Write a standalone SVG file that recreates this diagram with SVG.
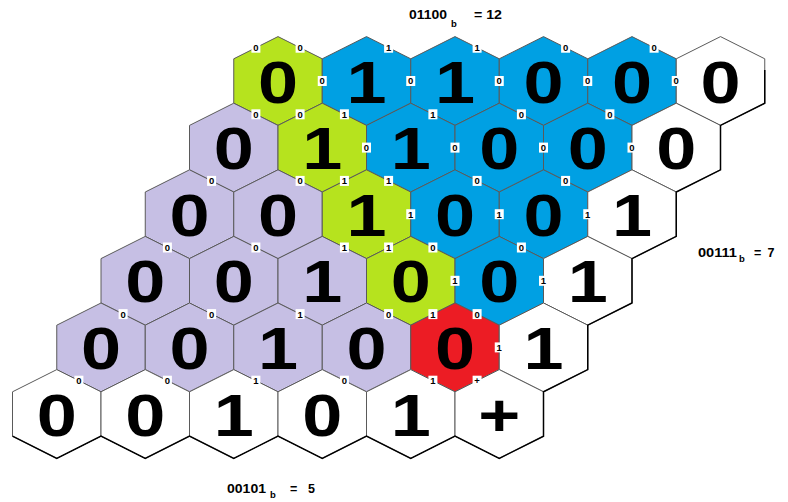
<svg xmlns="http://www.w3.org/2000/svg" xmlns:xlink="http://www.w3.org/1999/xlink" width="788" height="502" viewBox="0 0 788 502">
<style>
.hx{stroke:#5a5a5a;stroke-width:1}
.G{fill:#b6e31e}.B{fill:#00a0e3}.P{fill:#c6bfe4}.R{fill:#ec1c24}.W{fill:#ffffff}
.big{font-family:"Liberation Sans",Arial,sans-serif;font-weight:bold;font-size:60px;fill:#000;text-anchor:middle}
.lb{fill:#fff;stroke:none}
.lt{font-family:"Liberation Sans",Arial,sans-serif;font-weight:bold;font-size:9.5px;fill:#000;text-anchor:middle}
.cap{font-family:"Liberation Sans",Arial,sans-serif;font-weight:bold;font-size:12.5px;fill:#000}
.sub{font-family:"Liberation Sans",Arial,sans-serif;font-weight:bold;font-size:9.5px;fill:#000}
</style>
<defs>
<polygon id="hex" points="0,-44.4 44.25,-22.2 44.25,22.2 0,44.4 -44.25,22.2 -44.25,-22.2"/>
<g id="l0"><rect class="lb" x="-4.5" y="-5" width="9" height="10"/><text class="lt" y="3.4">0</text></g>
<g id="l1"><rect class="lb" x="-4.5" y="-5" width="9" height="10"/><text class="lt" y="3.4">1</text></g>
<g id="lp"><rect class="lb" x="-4.5" y="-5" width="9" height="10"/><text class="lt" y="3.4">+</text></g>
</defs>
<g id="nodes">
<g id="n00" transform="translate(278,81)"><use xlink:href="#hex" class="hx G"/><text class="big" y="21.5" transform="scale(1.2,1)">0</text></g>
<g id="n01" transform="translate(366.5,81)"><use xlink:href="#hex" class="hx B"/><text class="big" y="21.5" transform="scale(1.2,1)">1</text></g>
<g id="n02" transform="translate(455,81)"><use xlink:href="#hex" class="hx B"/><text class="big" y="21.5" transform="scale(1.2,1)">1</text></g>
<g id="n03" transform="translate(543.5,81)"><use xlink:href="#hex" class="hx B"/><text class="big" y="21.5" transform="scale(1.2,1)">0</text></g>
<g id="n04" transform="translate(632,81)"><use xlink:href="#hex" class="hx B"/><text class="big" y="21.5" transform="scale(1.2,1)">0</text></g>
<g id="n05" transform="translate(720.5,81)"><use xlink:href="#hex" class="hx W"/><text class="big" y="21.5" transform="scale(1.2,1)">0</text></g>

<g id="n10" transform="translate(233.75,147.6)"><use xlink:href="#hex" class="hx P"/><text class="big" y="21.5" transform="scale(1.2,1)">0</text></g>
<g id="n11" transform="translate(322.25,147.6)"><use xlink:href="#hex" class="hx G"/><text class="big" y="21.5" transform="scale(1.2,1)">1</text></g>
<g id="n12" transform="translate(410.75,147.6)"><use xlink:href="#hex" class="hx B"/><text class="big" y="21.5" transform="scale(1.2,1)">1</text></g>
<g id="n13" transform="translate(499.25,147.6)"><use xlink:href="#hex" class="hx B"/><text class="big" y="21.5" transform="scale(1.2,1)">0</text></g>
<g id="n14" transform="translate(587.75,147.6)"><use xlink:href="#hex" class="hx B"/><text class="big" y="21.5" transform="scale(1.2,1)">0</text></g>
<g id="n15" transform="translate(676.25,147.6)"><use xlink:href="#hex" class="hx W"/><text class="big" y="21.5" transform="scale(1.2,1)">0</text></g>

<g id="n20" transform="translate(189.5,214.2)"><use xlink:href="#hex" class="hx P"/><text class="big" y="21.5" transform="scale(1.2,1)">0</text></g>
<g id="n21" transform="translate(278,214.2)"><use xlink:href="#hex" class="hx P"/><text class="big" y="21.5" transform="scale(1.2,1)">0</text></g>
<g id="n22" transform="translate(366.5,214.2)"><use xlink:href="#hex" class="hx G"/><text class="big" y="21.5" transform="scale(1.2,1)">1</text></g>
<g id="n23" transform="translate(455,214.2)"><use xlink:href="#hex" class="hx B"/><text class="big" y="21.5" transform="scale(1.2,1)">0</text></g>
<g id="n24" transform="translate(543.5,214.2)"><use xlink:href="#hex" class="hx B"/><text class="big" y="21.5" transform="scale(1.2,1)">0</text></g>
<g id="n25" transform="translate(632,214.2)"><use xlink:href="#hex" class="hx W"/><text class="big" y="21.5" transform="scale(1.2,1)">1</text></g>

<g id="n30" transform="translate(145.25,280.8)"><use xlink:href="#hex" class="hx P"/><text class="big" y="21.5" transform="scale(1.2,1)">0</text></g>
<g id="n31" transform="translate(233.75,280.8)"><use xlink:href="#hex" class="hx P"/><text class="big" y="21.5" transform="scale(1.2,1)">0</text></g>
<g id="n32" transform="translate(322.25,280.8)"><use xlink:href="#hex" class="hx P"/><text class="big" y="21.5" transform="scale(1.2,1)">1</text></g>
<g id="n33" transform="translate(410.75,280.8)"><use xlink:href="#hex" class="hx G"/><text class="big" y="21.5" transform="scale(1.2,1)">0</text></g>
<g id="n34" transform="translate(499.25,280.8)"><use xlink:href="#hex" class="hx B"/><text class="big" y="21.5" transform="scale(1.2,1)">0</text></g>
<g id="n35" transform="translate(587.75,280.8)"><use xlink:href="#hex" class="hx W"/><text class="big" y="21.5" transform="scale(1.2,1)">1</text></g>

<g id="n40" transform="translate(101,347.4)"><use xlink:href="#hex" class="hx P"/><text class="big" y="21.5" transform="scale(1.2,1)">0</text></g>
<g id="n41" transform="translate(189.5,347.4)"><use xlink:href="#hex" class="hx P"/><text class="big" y="21.5" transform="scale(1.2,1)">0</text></g>
<g id="n42" transform="translate(278,347.4)"><use xlink:href="#hex" class="hx P"/><text class="big" y="21.5" transform="scale(1.2,1)">1</text></g>
<g id="n43" transform="translate(366.5,347.4)"><use xlink:href="#hex" class="hx P"/><text class="big" y="21.5" transform="scale(1.2,1)">0</text></g>
<g id="n44" transform="translate(455,347.4)"><use xlink:href="#hex" class="hx R"/><text class="big" y="21.5" transform="scale(1.2,1)">0</text></g>
<g id="n45" transform="translate(543.5,347.4)"><use xlink:href="#hex" class="hx W"/><text class="big" y="21.5" transform="scale(1.2,1)">1</text></g>

<g id="n50" transform="translate(56.75,414)"><use xlink:href="#hex" class="hx W"/><text class="big" y="21.5" transform="scale(1.2,1)">0</text></g>
<g id="n51" transform="translate(145.25,414)"><use xlink:href="#hex" class="hx W"/><text class="big" y="21.5" transform="scale(1.2,1)">0</text></g>
<g id="n52" transform="translate(233.75,414)"><use xlink:href="#hex" class="hx W"/><text class="big" y="21.5" transform="scale(1.2,1)">1</text></g>
<g id="n53" transform="translate(322.25,414)"><use xlink:href="#hex" class="hx W"/><text class="big" y="21.5" transform="scale(1.2,1)">0</text></g>
<g id="n54" transform="translate(410.75,414)"><use xlink:href="#hex" class="hx W"/><text class="big" y="21.5" transform="scale(1.2,1)">1</text></g>
<g id="n55" transform="translate(499.25,414)"><use xlink:href="#hex" class="hx W"/><text class="big" y="21.5" transform="scale(1.2,1)">+</text></g>
</g>
<g id="connectors">
<path d="M764.75,70 L764.75,103.2 L720.5,125.4 L720.5,169.8 L676.25,192 L676.25,236.4 L632,258.6 L632,303 L587.75,325.2 L587.75,369.6 L543.5,391.8 L543.5,436.2 L499.25,458.4 L455,436.2 L410.75,458.4 L366.5,436.2 L322.25,458.4 L278,436.2 L233.75,458.4 L189.5,436.2 L145.25,458.4 L101,436.2 L56.75,458.4 L12.5,436.2" fill="none" stroke="#000" stroke-width="1.5"/>
</g>
<g id="edge-labels">
<use xlink:href="#l0" x="255.9" y="47.7"/>
<use xlink:href="#l0" x="300.1" y="47.7"/>
<use xlink:href="#l1" x="388.6" y="47.7"/>
<use xlink:href="#l1" x="477.1" y="47.7"/>
<use xlink:href="#l0" x="565.6" y="47.7"/>
<use xlink:href="#l0" x="654.1" y="47.7"/>
<use xlink:href="#l0" x="322.25" y="81"/>
<use xlink:href="#l0" x="410.75" y="81"/>
<use xlink:href="#l0" x="499.25" y="81"/>
<use xlink:href="#l0" x="587.75" y="81"/>
<use xlink:href="#l0" x="676.25" y="81"/>
<use xlink:href="#l0" x="255.9" y="114.3"/>
<use xlink:href="#l0" x="300.1" y="114.3"/>
<use xlink:href="#l1" x="344.4" y="114.3"/>
<use xlink:href="#l1" x="432.9" y="114.3"/>
<use xlink:href="#l0" x="521.4" y="114.3"/>
<use xlink:href="#l0" x="609.9" y="114.3"/>
<use xlink:href="#l0" x="366.5" y="147.6"/>
<use xlink:href="#l0" x="455" y="147.6"/>
<use xlink:href="#l0" x="543.5" y="147.6"/>
<use xlink:href="#l0" x="632" y="147.6"/>
<use xlink:href="#l0" x="211.6" y="180.9"/>
<use xlink:href="#l0" x="300.1" y="180.9"/>
<use xlink:href="#l1" x="344.4" y="180.9"/>
<use xlink:href="#l1" x="388.6" y="180.9"/>
<use xlink:href="#l0" x="477.1" y="180.9"/>
<use xlink:href="#l0" x="565.6" y="180.9"/>
<use xlink:href="#l1" x="410.75" y="214.2"/>
<use xlink:href="#l1" x="499.25" y="214.2"/>
<use xlink:href="#l1" x="587.75" y="214.2"/>
<use xlink:href="#l0" x="167.4" y="247.5"/>
<use xlink:href="#l0" x="255.9" y="247.5"/>
<use xlink:href="#l1" x="344.4" y="247.5"/>
<use xlink:href="#l1" x="388.6" y="247.5"/>
<use xlink:href="#l0" x="432.9" y="247.5"/>
<use xlink:href="#l0" x="521.4" y="247.5"/>
<use xlink:href="#l1" x="455" y="280.8"/>
<use xlink:href="#l1" x="543.5" y="280.8"/>
<use xlink:href="#l0" x="123.1" y="314.1"/>
<use xlink:href="#l0" x="211.6" y="314.1"/>
<use xlink:href="#l1" x="300.1" y="314.1"/>
<use xlink:href="#l0" x="388.6" y="314.1"/>
<use xlink:href="#l1" x="432.9" y="314.1"/>
<use xlink:href="#l0" x="477.1" y="314.1"/>
<use xlink:href="#l1" x="499.25" y="347.4"/>
<use xlink:href="#l0" x="78.9" y="380.7"/>
<use xlink:href="#l0" x="167.4" y="380.7"/>
<use xlink:href="#l1" x="255.9" y="380.7"/>
<use xlink:href="#l0" x="344.4" y="380.7"/>
<use xlink:href="#l1" x="432.9" y="380.7"/>
<use xlink:href="#lp" x="477.1" y="380.7"/>
</g>
<g id="captions">
<text class="cap" x="409" y="19" textLength="38" lengthAdjust="spacingAndGlyphs">01100</text>
<text class="sub" x="451" y="27">b</text>
<text class="cap" x="474" y="19" textLength="28" lengthAdjust="spacingAndGlyphs">= 12</text>
<text class="cap" x="698" y="257" textLength="39" lengthAdjust="spacingAndGlyphs">00111</text>
<text class="sub" x="739" y="262">b</text>
<text class="cap" x="754" y="257">=</text>
<text class="cap" x="767.5" y="257">7</text>
<text class="cap" x="227" y="493" textLength="39" lengthAdjust="spacingAndGlyphs">00101</text>
<text class="sub" x="270" y="497.5">b</text>
<text class="cap" x="290" y="493">=</text>
<text class="cap" x="308" y="493">5</text>
</g>
</svg>
